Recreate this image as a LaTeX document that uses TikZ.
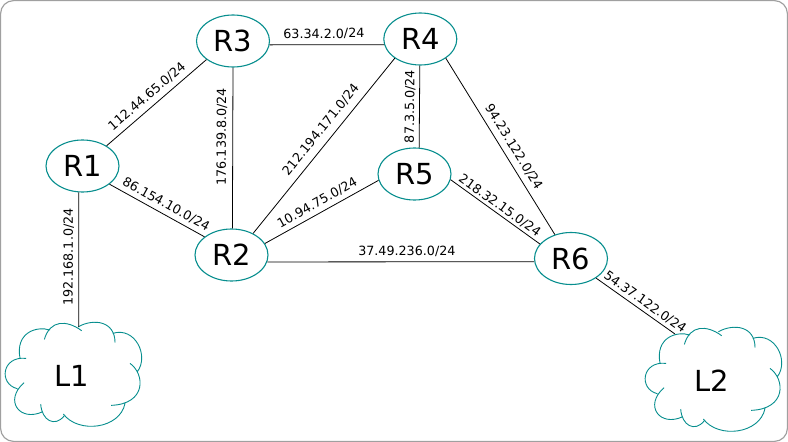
\documentclass[tikz,border=0pt]{standalone}
\usepackage{fontspec}
\setmainfont{DejaVu Sans}
\usetikzlibrary{shapes.geometric}
\definecolor{routerteal}{HTML}{078E8E}
\definecolor{framegray}{HTML}{A0A0A0}
\newcommand{\linksize}{\fontsize{12.7}{14}\selectfont}
\newcommand{\hostsize}{\fontsize{29}{32}\selectfont}
\tikzset{
  router/.style={ellipse,draw=routerteal,line width=1.1pt,fill=white,minimum width=73pt,minimum height=52pt,inner sep=0pt,font=\hostsize},
  lan/.style={font=\hostsize,inner sep=0pt},
  link/.style 2 args={pos=#1,above=#2,sloped,font=\linksize,inner sep=2pt},
  lancloud/.pic={
    \draw[routerteal,line width=.9pt,x=.3333pt,y=-.3333pt]
      (-82,-109) .. controls (-65,-168) and (-15,-168) .. (30,-135)
      (20,-147) .. controls (65,-172) and (130,-165) .. (130,-99)
      (123,-127) .. controls (190,-148) and (233,-60) .. (197,-12)
      (175,-37) .. controls (220,-5) and (225,85) .. (118,89)
      (160,83) .. controls (145,160) and (20,175) .. (-25,115)
      (-23,121) .. controls (-50,155) and (-90,135) .. (-93,85)
      (-87,108) .. controls (-155,140) and (-205,75) .. (-143,21)
      (-163,39) .. controls (-220,25) and (-210,-60) .. (-137,-52)
      (-155,-52) .. controls (-170,-130) and (-105,-150) .. (-65,-137);
  }
}
\begin{document}
\begin{tikzpicture}[x=1pt,y=-1pt,every edge/.style={draw,line width=.8pt,black}]
\draw[framegray,line width=1.2pt,rounded corners=13pt] (.6,.6) rectangle (787.4,441.4);
\useasboundingbox (0,0) rectangle (788,442);

\node[router] (R1) at (82.5,166) {R1};
\node[router] (R2) at (231.5,255) {R2};
\node[router] (R3) at (233,41) {R3};
\node[router] (R4) at (420.3,39) {R4};
\node[router] (R5) at (414.5,174) {R5};
\node[router] (R6) at (571,258.5) {R6};

\pic at (71.7,375.7) {lancloud};
\pic at (711.7,380.7) {lancloud};
\node[lan] (L1) at (71.7,375.7) {L1};
\node[lan] (L2) at (711.7,380.7) {L2};
\coordinate (L1-port) at (78.7,327);
\coordinate (L2-port) at (675,334);

\path (R1.40) edge node[link={.477}{3.3pt}] {112.44.65.0/24} (R3.215);
\path (R1.-34) edge node[link={.546}{2.2pt}] {86.154.10.0/24} (R2.146);
\path (L1-port) edge node[link={.52}{2.4pt}] {192.168.1.0/24} (R1.-98);
\path (R2.88) edge node[link={.57}{3.2pt}] {176.139.8.0/24} (R3.-90);
\path (R3.-6) edge node[link={.474}{3.2pt}] {63.34.2.0/24} (R4.189);
\path (R2.45) edge node[link={.547}{4.9pt}] {212.194.171.0/24} (R4.217);
\path (R2.19.5) edge node[link={.504}{2.3pt}] {10.94.75.0/24} (R5.190.5);
\path (R2.-11) edge node[link={.523}{2.7pt}] {37.49.236.0/24} (R6.185);
\path (R4.-91) edge node[link={.5}{1.7pt}] {87.3.5.0/24} (R5.80);
\path (R4.-37) edge node[link={.536}{3.4pt}] {94.23.122.0/24} (R6.124);
\path (R5.-9.5) edge node[link={.5}{0pt}] {218.32.15.0/24} (R6.155);
\path (R6.-38) edge node[link={.558}{1pt}] {54.37.122.0/24} (L2-port);
\end{tikzpicture}
\end{document}
